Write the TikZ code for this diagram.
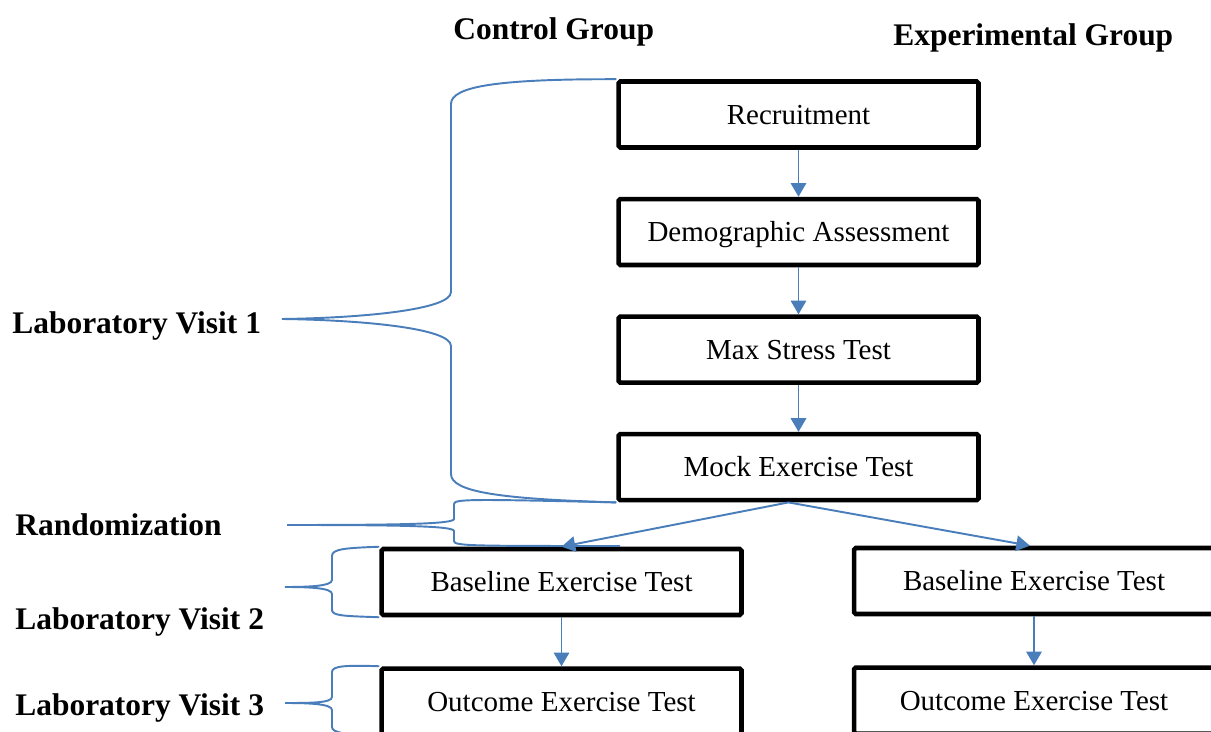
\documentclass[tikz,border=0pt]{standalone}
\usepackage{fontspec}
\setmainfont{Liberation Serif}
\usepackage{xcolor}
\usepackage{tikz}
\usetikzlibrary{positioning,arrows.meta,calc}
\definecolor{wordblue}{RGB}{74,126,187}

\begin{document}
\begin{tikzpicture}[
  x=0.02cm, y=-0.02cm,
  every node/.style={font=\fontsize{16.5}{20}\selectfont},
  blk/.style={draw, line width=2.6pt, rounded corners=1pt,
              minimum width=7.2cm, minimum height=1.32cm,
              text height=12.4pt, text depth=1.2pt,
              inner sep=0pt, align=center},
  hdr/.style={font=\fontsize{17.9}{21}\selectfont\bfseries,
              inner sep=0pt, anchor=base west},
  arr/.style={-{Triangle[length=7.8pt,width=8.8pt]}, wordblue, line width=1.1pt},
  brace/.style={wordblue, line width=1.1pt},
  node distance=0.94cm
]
\useasboundingbox (0,0) rectangle (1211,732);
\clip (0,0) rectangle (1211,732);

%% headings and visit labels
\node[hdr] (ctrl) at (453,40) {Control Group};
\node[hdr] (expt) at (893,46) {Experimental Group};
\node[hdr] (lv1)  at (12,334) {Laboratory Visit 1};
\node[hdr] (rand) at (15,536) {Randomization};
\node[hdr] (lv2)  at (15,630) {Laboratory Visit 2};
\node[hdr] (lv3)  at (15,716) {Laboratory Visit 3};

%% common column
\node[blk] (rec) at (798.5,114.5) {Recruitment};
\node[blk, below=of rec]  (demo) {Demographic Assessment};
\node[blk, below=of demo] (max)  {Max Stress Test};
\node[blk, below=of max]  (mock) {Mock Exercise Test};

%% two groups
\node[blk] (baseL) at (561.5,582) {Baseline Exercise Test};
\node[blk] (baseR) at (1034,581)  {Baseline Exercise Test};
\node[blk, below=0.98cm of baseL] (outL) {Outcome Exercise Test};
\node[blk, below=0.98cm of baseR] (outR) {Outcome Exercise Test};

\draw[arr] (rec)  -- (demo);
\draw[arr] (demo) -- (max);
\draw[arr] (max)  -- (mock);
\draw[arr] ([xshift=-0.2cm]mock.south) -- (baseL.north);
\draw[arr] ([xshift=-0.2cm]mock.south) -- ([xshift=-0.08cm]baseR.north);
\draw[arr] (baseL) -- (outL);
\draw[arr] (baseR) -- (outR);

%% braces
\coordinate (v1)     at (282,319);
\coordinate (rnd)    at (287,525);
\coordinate (rndEnd) at (620,546);
\coordinate (v2)     at (285,587);
\coordinate (v3)     at (285,703);

\draw[brace] (rec.north west) .. controls (500,79) and (451,86) .. (451,104)
  -- (451,292) .. controls (451,310) and (360,318) .. (v1)
  .. controls (360,320) and (451,328) .. (451,346)
  -- (451,474) .. controls (451,492) and (500,499) .. (mock.south west);

\draw[brace] (mock.south west) .. controls (470,499) and (454,499) .. (454,504)
  -- (454,519) .. controls (454,524) and (400,525) .. (rnd)
  .. controls (400,525) and (454,526) .. (454,531)
  -- (454,541) .. controls (454,546) and (470,546) .. (rndEnd);

\draw[brace] (baseL.north west) .. controls (345,548) and (332,549) .. (332,556)
  -- (332,580) .. controls (332,586) and (310,587) .. (v2)
  .. controls (310,587) and (332,588) .. (332,594)
  -- (332,610) .. controls (332,616) and (345,616) .. (baseL.south west);

\draw[brace] (outL.north west) .. controls (345,665) and (332,666) .. (332,672)
  -- (332,697) .. controls (332,703) and (310,703) .. (v3)
  .. controls (310,703) and (332,704) .. (332,710)
  -- (332,727) .. controls (332,733) and (345,734) .. (outL.south west);

\end{tikzpicture}
\end{document}
